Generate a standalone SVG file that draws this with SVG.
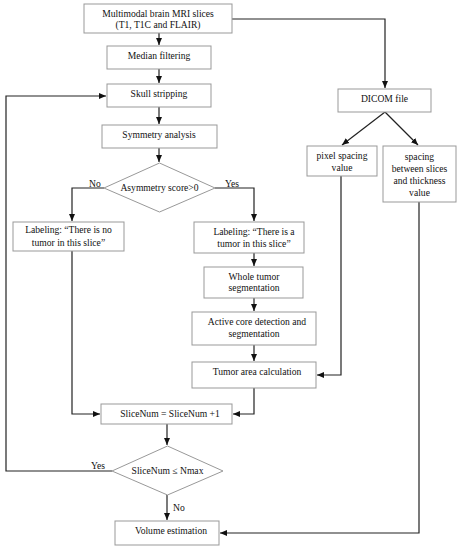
<svg xmlns="http://www.w3.org/2000/svg" width="461" height="550" viewBox="0 0 461 550">
<style>
.box{fill:#fff;stroke:#999;stroke-width:1}
.t{font-family:"Liberation Serif","Times New Roman",serif;font-size:9.6px;fill:#111;text-anchor:middle}
.l{font-family:"Liberation Serif","Times New Roman",serif;font-size:9.6px;fill:#111}
.c{fill:none;stroke:#222;stroke-width:1.2}
</style>
<defs>
<marker id="a" markerWidth="8" markerHeight="8" refX="7" refY="4" orient="auto" markerUnits="userSpaceOnUse">
<path d="M0,1 L7,4 L0,7 Z" fill="#111"/>
</marker>
</defs>
<rect width="461" height="550" fill="#fff"/>
<g id="connectors">
<path class="c" d="M159,33 V45" marker-end="url(#a)"/>
<path class="c" d="M159,69 V83" marker-end="url(#a)"/>
<path class="c" d="M159,107 V124" marker-end="url(#a)"/>
<path class="c" d="M159,148 V162" marker-end="url(#a)"/>
<path class="c" d="M104,188 H72 V221" marker-end="url(#a)"/>
<path class="c" d="M215,188 H254 V221" marker-end="url(#a)"/>
<path class="c" d="M254,253 V266" marker-end="url(#a)"/>
<path class="c" d="M254,298 V311" marker-end="url(#a)"/>
<path class="c" d="M254,345 V361" marker-end="url(#a)"/>
<path class="c" d="M254,388 V414 H233" marker-end="url(#a)"/>
<path class="c" d="M72,251 V414 H100" marker-end="url(#a)"/>
<path class="c" d="M167,424 V445" marker-end="url(#a)"/>
<path class="c" d="M112,471 H6 V96 H106" marker-end="url(#a)"/>
<path class="c" d="M167,495 V520" marker-end="url(#a)"/>
<path class="c" d="M232,19 H385 V88" marker-end="url(#a)"/>
<path class="c" d="M385,112 L342,145" marker-end="url(#a)"/>
<path class="c" d="M385,112 L418,145" marker-end="url(#a)"/>
<path class="c" d="M341,176 V375 H317" marker-end="url(#a)"/>
<path class="c" d="M419,202 V533 H220" marker-end="url(#a)"/>
<text class="l" x="89" y="187">No</text>
<text class="l" x="225" y="187">Yes</text>
<text class="l" x="91" y="469">Yes</text>
<text class="l" x="173" y="511">No</text>
</g>
<g id="n1"><rect class="box" x="84" y="4" width="148" height="29"/>
<text class="t" x="158" y="17">Multimodal brain MRI slices</text><text class="t" x="158" y="28">(T1, T1C and FLAIR)</text></g>
<g id="n2"><rect class="box" x="107" y="46" width="104" height="23"/>
<text class="t" x="159" y="59">Median filtering</text></g>
<g id="n3"><rect class="box" x="107" y="84" width="104" height="23"/>
<text class="t" x="159" y="97">Skull stripping</text></g>
<g id="n4"><rect class="box" x="102" y="125" width="115" height="23"/>
<text class="t" x="159" y="138">Symmetry analysis</text></g>
<g id="n5"><path class="box" d="M159.5,163 L215,188 L159.5,212 L104,188 Z"/>
<text class="t" x="159.5" y="191">Asymmetry score&gt;0</text></g>
<g id="n6"><rect class="box" x="13" y="222" width="111" height="29"/>
<text class="t" x="68.5" y="233">Labeling: “There is no</text><text class="t" x="68.5" y="246">tumor in this slice”</text></g>
<g id="n7"><rect class="box" x="194" y="222" width="110" height="31"/>
<text class="t" x="254" y="235">Labeling: “There is a</text><text class="t" x="254" y="247">tumor in this slice”</text></g>
<g id="n8"><rect class="box" x="204" y="267" width="99" height="31"/>
<text class="t" x="254" y="280">Whole tumor</text><text class="t" x="254" y="291">segmentation</text></g>
<g id="n9"><rect class="box" x="192" y="312" width="124" height="33"/>
<text class="t" x="257" y="325">Active core detection and</text><text class="t" x="254" y="337">segmentation</text></g>
<g id="n10"><rect class="box" x="192" y="362" width="124" height="26"/>
<text class="t" x="257" y="375">Tumor area calculation</text></g>
<g id="n11"><rect class="box" x="101" y="404" width="131" height="20"/>
<text class="t" x="170" y="417">SliceNum = SliceNum +1</text></g>
<g id="n12"><path class="box" d="M167.5,446 L223,471 L167.5,495 L112,471 Z"/>
<text class="t" x="167.5" y="474">SliceNum ≤ Nmax</text></g>
<g id="n13"><rect class="box" x="115" y="521" width="104" height="24"/>
<text class="t" x="171" y="534">Volume estimation</text></g>
<g id="n14"><rect class="box" x="338" y="89" width="93" height="23"/>
<text class="t" x="384.5" y="102">DICOM file</text></g>
<g id="n15"><rect class="box" x="307" y="146" width="70" height="30"/>
<text class="t" x="342" y="159">pixel spacing</text><text class="t" x="342" y="171">value</text></g>
<g id="n16"><rect class="box" x="383" y="146" width="73" height="56"/>
<text class="t" x="419.5" y="160">spacing</text><text class="t" x="419.5" y="172">between slices</text><text class="t" x="419.5" y="184">and thickness</text><text class="t" x="419.5" y="196">value</text></g>
</svg>
